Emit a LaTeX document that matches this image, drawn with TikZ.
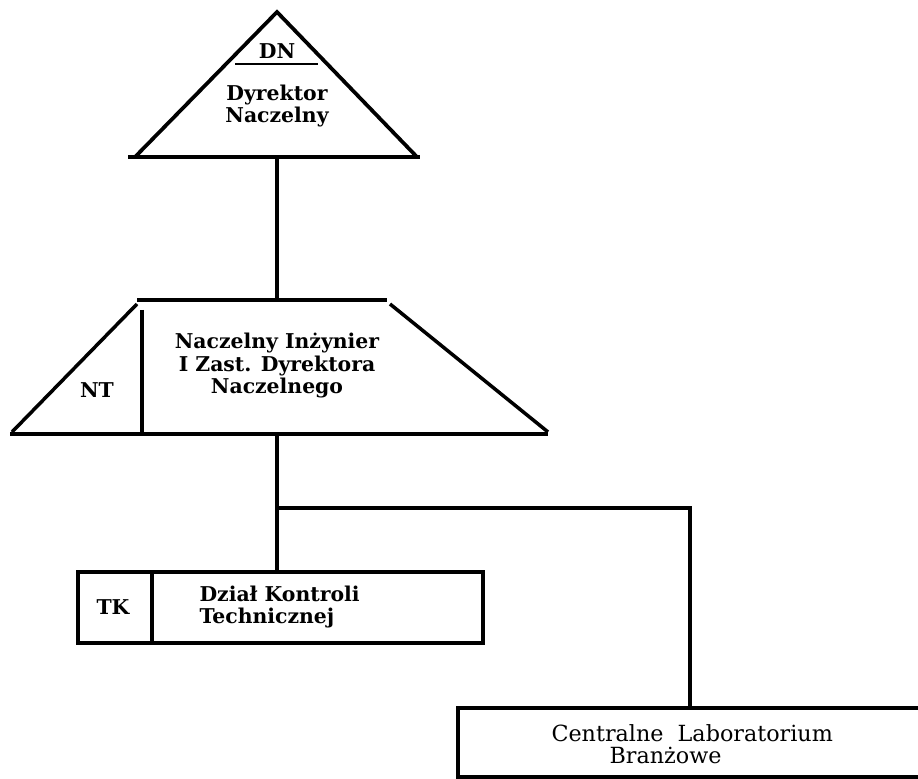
\documentclass[tikz,border=0pt]{standalone}
\usepackage{fontspec}
\setmainfont{DejaVu Serif}

\begin{document}
\begin{tikzpicture}[x=0.015cm,y=-0.015cm,line width=1.3pt]
\tikzstyle{every node}+=[inner sep=0pt]
\tikzstyle{boldtext}=[font=\fontsize{8.7}{9.6}\selectfont\bfseries,align=center]
\tikzstyle{plaintext}=[font=\fontsize{9.5}{9.6}\selectfont,anchor=west]
\useasboundingbox (0,0) rectangle (918,779);
% Dyrektor Naczelny
\draw [black, line width=1.6pt] (135,157) -- (277,12) -- (417,157);
\draw [black] (128,157) -- (420,157);
\draw (277,51) node (dntitle) [boldtext] {DN};
\draw [black, line width=1pt] (235,64) -- (318,64);
\draw (277,106) node (dnname) [boldtext] {Dyrektor\\Naczelny};
\coordinate (dnbot) at (277,157);
% Naczelny Inzynier
\coordinate (nttop) at (277,300);
\draw [black] (137,300) -- (387,300);
\draw [black, line width=1.5pt] (137,304) -- (12,432);
\draw [black, line width=1.5pt] (390,304) -- (548,432);
\draw [black] (10,434) -- (548,434);
\draw [black, line width=1.5pt] (142,310) -- (142,432);
\draw (97,390) node (nttitle) [boldtext] {NT};
\draw (277,366) node (ntname) [boldtext] {Naczelny Inżynier\\I Zast. Dyrektora\\Naczelnego};
\coordinate (ntbot) at (277,434);
\draw [black] (dnbot) -- (nttop);
% Dzial Kontroli Technicznej
\coordinate (tktop) at (277,572);
\draw [black] (78,572) rectangle (483,643);
\draw [black, line width=1.5pt] (152,572) -- (152,643);
\draw (113,607) node (tktitle) [boldtext] {TK};
\draw (198,607) node (tkname) [boldtext,align=left,anchor=west] {Dział Kontroli\\Technicznej};
\draw [black] (ntbot) -- (tktop);
% Centralne Laboratorium
\coordinate (branch) at (277,508);
\coordinate (labtop) at (690,708);
\draw [black] (918,708) -- (458,708) -- (458,777) -- (918,777);
\draw (550,733) node (labname) [plaintext] {Centralne\ \ Laboratorium};
\draw (608,755) node (labname2) [plaintext] {Branżowe};
\draw [black] (branch) -- (branch -| labtop) -- (labtop);
\end{tikzpicture}
\end{document}
